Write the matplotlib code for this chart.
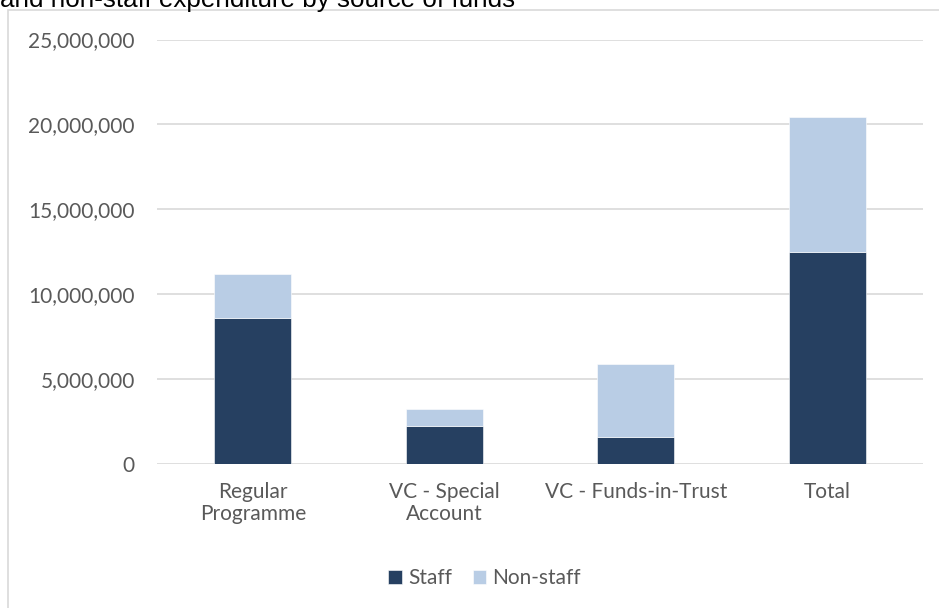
import matplotlib
matplotlib.use("Agg")
import matplotlib.pyplot as plt
from matplotlib.patches import Rectangle
from matplotlib.ticker import FuncFormatter

plt.rcParams['font.family'] = ['Lato', 'DejaVu Sans']

categories = ["Regular\nProgramme", "VC - Special\nAccount", "VC - Funds-in-Trust", "Total"]
staff = [8590000, 2240000, 1600000, 12490000]
non_staff = [2620000, 1000000, 4280000, 7920000]
series_names = ["Staff", "Non-staff"]
title = "and non-staff expenditure by source of funds"

dark = "#264061"
light = "#B9CDE5"
grey_txt = "#595959"

fig = plt.figure(figsize=(9.39, 6.08), dpi=100)

# chart frame (top-left part visible, rest cropped)
frame = Rectangle((7.5 / 939, -0.1), 1.1, 1 - 10.5 / 608 + 0.1,
                  transform=fig.transFigure, fill=False,
                  edgecolor="#d9d9d9", linewidth=1.2)
fig.patches.append(frame)

# title is cut off at the top in the original
fig.text(0.0, 1 - 6.5 / 608, title, ha="left", va="baseline",
         fontsize=18.7, family=["Liberation Sans", "DejaVu Sans"], color="black")

ax = fig.add_axes([157 / 939, 1 - 464 / 608, (923 - 157) / 939, (464 - 39.5) / 608])
x = range(len(categories))
ax.bar(x, staff, width=0.4, color=dark, edgecolor="white", linewidth=0.4,
       label=series_names[0], zorder=3)
ax.bar(x, non_staff, width=0.4, bottom=staff, color=light, edgecolor="white",
       linewidth=0.4, label=series_names[1], zorder=3)

ax.set_xlim(-0.5, len(categories) - 0.5)
ax.set_ylim(0, 25000000)
ax.set_yticks(range(0, 25000001, 5000000))
ax.yaxis.set_major_formatter(FuncFormatter(lambda v, p: f"{int(v):,}"))
ax.set_xticks(list(x))
ax.set_xticklabels(categories)
ax.grid(axis="y", color="#d9d9d9", linewidth=1.2, zorder=0)
for s in ax.spines.values():
    s.set_visible(False)
ax.tick_params(axis="both", length=0, labelsize=15, colors=grey_txt)
ax.tick_params(axis="y", pad=16)
ax.tick_params(axis="x", pad=13)
for lab in ax.get_xticklabels():
    lab.set_linespacing(1.15)

handles, labels = ax.get_legend_handles_labels()
fig.legend(handles, labels, loc="center", bbox_to_anchor=(0.516, 1 - 578 / 608),
           ncol=2, frameon=False, fontsize=15, handlelength=0.65, handleheight=0.65,
           handletextpad=0.3, columnspacing=1.0, labelcolor=grey_txt)

fig.savefig("out.png", dpi=100)
